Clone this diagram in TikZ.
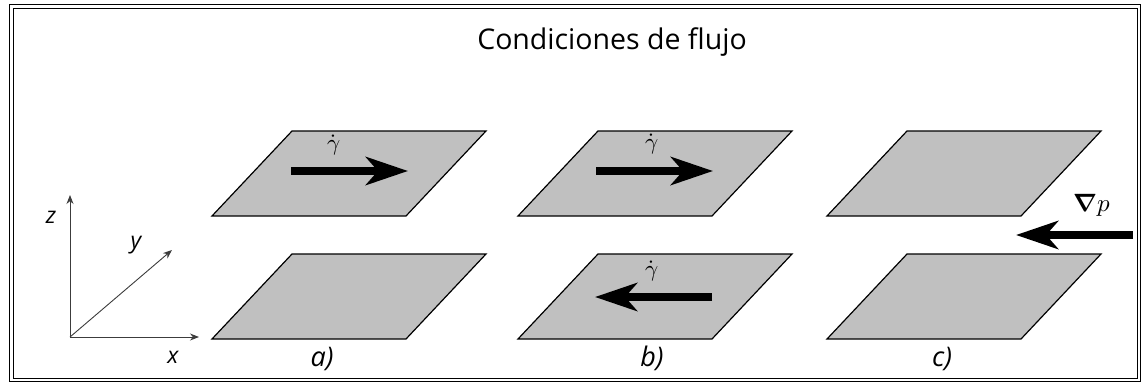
\documentclass[tikz,border=0pt]{standalone}
\usepackage{fontspec}
\usepackage{unicode-math}
\setmainfont{Open Sans}
\setmathfont{Latin Modern Math}
\usetikzlibrary{arrows.meta,positioning}
\definecolor{platefill}{RGB}{192,192,192}
\definecolor{axisgray}{RGB}{60,60,60}
\tikzset{
  plate/.style={draw=black, fill=platefill, line width=1.2pt, line join=miter},
  flow/.style={line width=8pt, -{Stealth[length=42pt,width=28pt,inset=12pt]}},
  axis/.style={draw=axisgray, line width=0.9pt, -{Stealth[length=9pt,width=7pt]}},
  axlabel/.style={font=\fontsize{23}{25}\selectfont\itshape},
  caselabel/.style={font=\fontsize{27}{29}\selectfont\itshape, anchor=base},
  rate/.style={font=\fontsize{23}{25}\selectfont}
}
\begin{document}
\begin{tikzpicture}[x=1pt, y=-1pt]
\useasboundingbox (0,0) rectangle (1143,383);
% frame
\draw[line width=1.8pt] (9.5,4.5) rectangle (1140.5,381.5);
\draw[line width=0.8pt] (13,8) rectangle (1137,378);
\node(title) [anchor=base] at (612,49) {\fontsize{28.5}{31}\selectfont Condiciones de flujo};

% axes
\coordinate (O) at (70,337);
\coordinate (Z) at (70,195);
\coordinate (X) at (199,337);
\coordinate (Y) at (172,250);
\draw[axis] (O) -- (Z);
\draw[axis] (O) -- (X);
\draw[axis] (O) -- (Y);
\node(zl) [axlabel] at (51,217) {z};
\node(yl) [axlabel] at (136,245) {y};
\node(xl) [axlabel] at (173,357) {x};

% plates
\foreach \n/\x in {a/212,b/518,c/827}{
  \draw[plate] (\x,216) coordinate (\n top) -- ++(194,0) -- ++(80,-85) -- ++(-194,0) -- cycle;
  \draw[plate] (\x,339) coordinate (\n bot) -- ++(194,0) -- ++(80,-85) -- ++(-194,0) -- cycle;
}
\node(la) [caselabel] at (322,366) {a)};
\node(lb) [caselabel] at (652,366) {b)};
\node(lc) [caselabel] at (942,366) {c)};

% a)
\coordinate (a1) at (291,171);
\coordinate (a2) at (408,171);
\draw[flow] (a1) -- (a2);
\node(ga) [rate] at (334,145) {$\dot{\gamma}$};

% b)
\coordinate (b1) at (596,171);
\coordinate (b2) at (713,171);
\draw[flow] (b1) -- (b2);
\node(gb) [rate] at (652,144) {$\dot{\gamma}$};
\coordinate (b3) at (712,297);
\coordinate (b4) at (595,297);
\draw[flow] (b3) -- (b4);
\node(gc) [rate] at (652,271) {$\dot{\gamma}$};

% c)
\coordinate (c1) at (1133,235);
\coordinate (c2) at (1016,235);
\draw[flow] (c1) -- (c2);
\node(grad) [font=\fontsize{25}{27}\selectfont] at (1092,205) {$\symbf{\nabla}p$};
\end{tikzpicture}
\end{document}
